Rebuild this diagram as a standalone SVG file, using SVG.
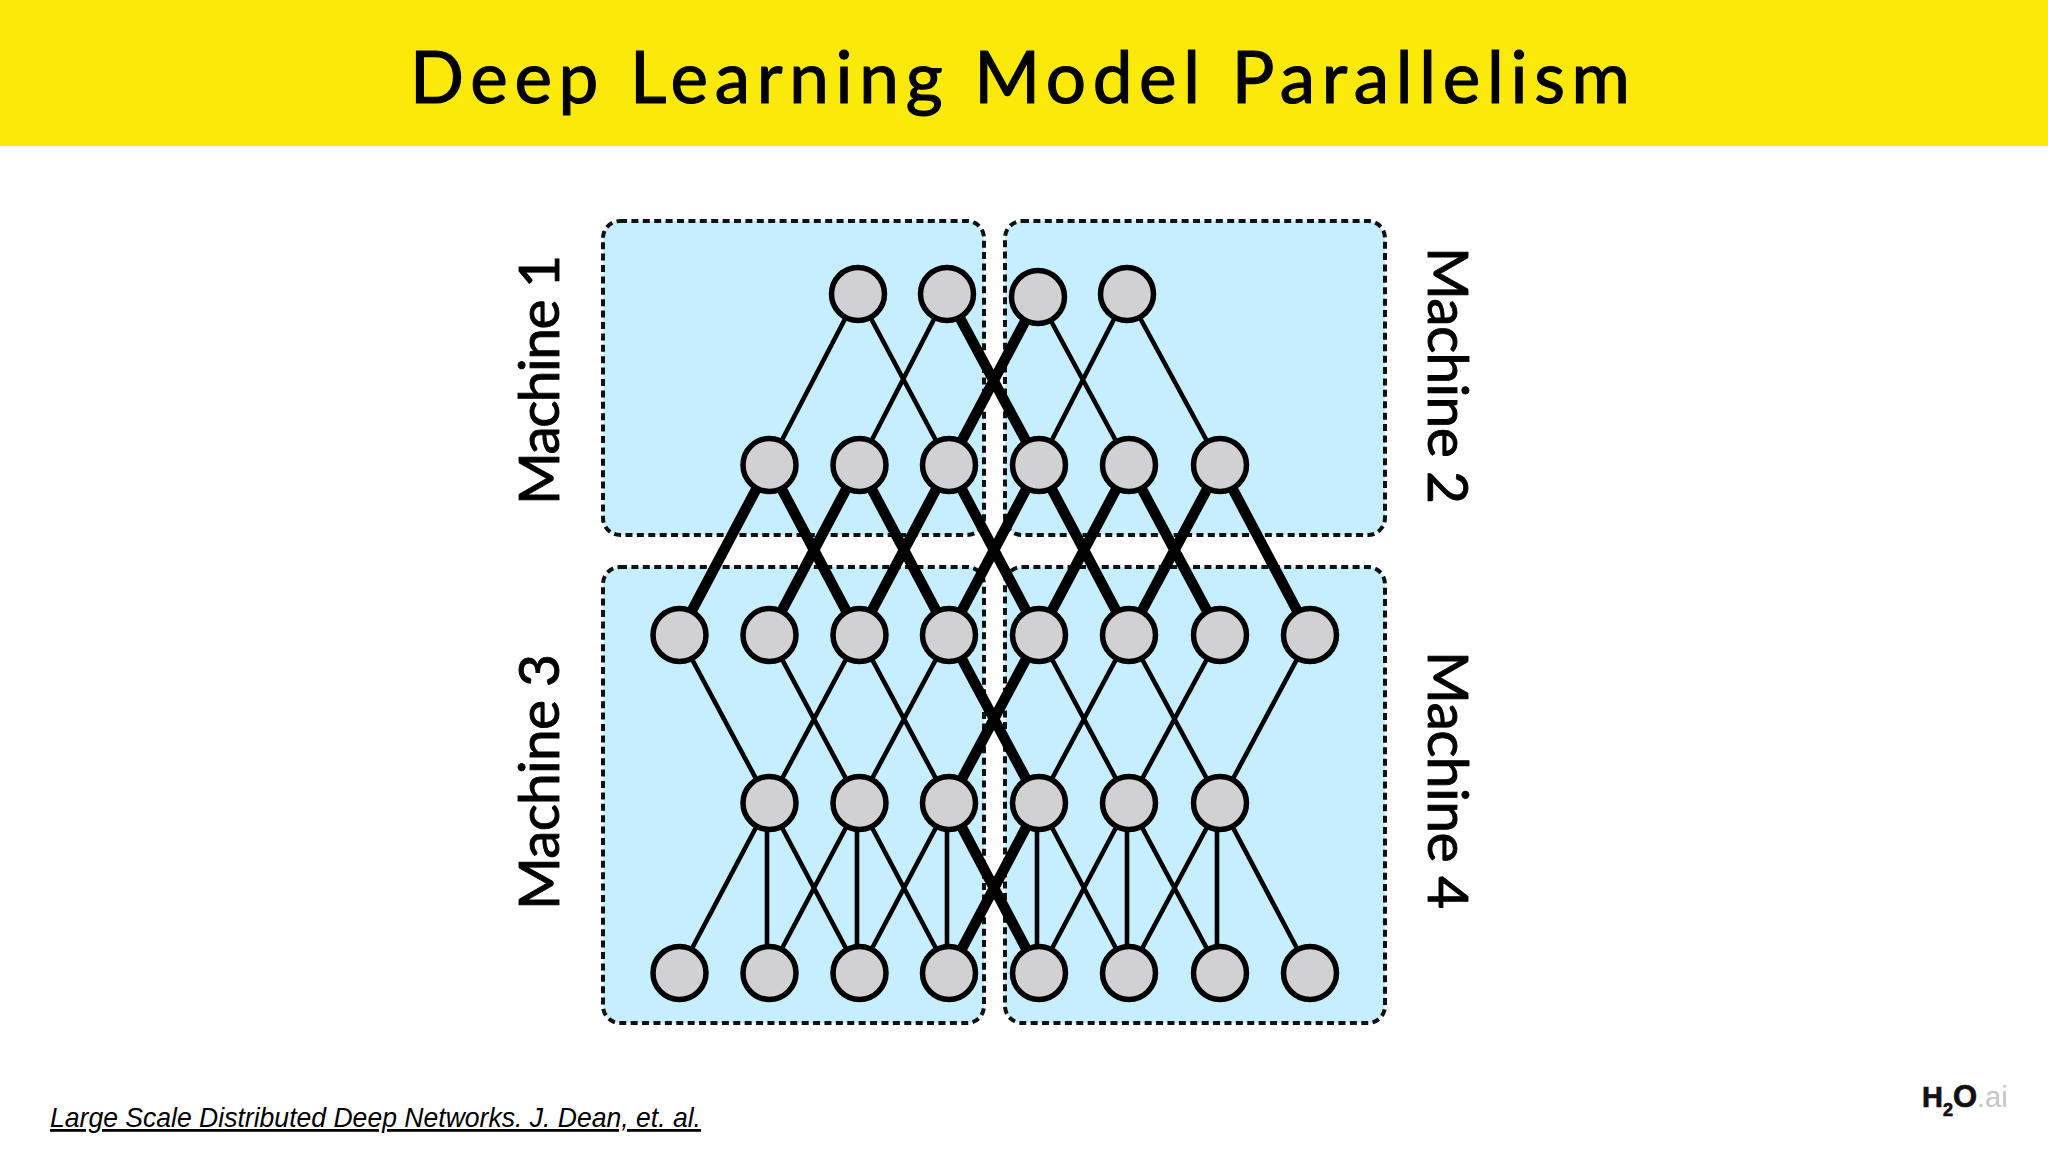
<svg xmlns="http://www.w3.org/2000/svg" width="2048" height="1152" viewBox="0 0 2048 1152">
<style>
.box{fill:#c6eefe;stroke:#111;stroke-width:4;stroke-dasharray:7 4.4}
.n{fill:#d1d1d3;stroke:#000;stroke-width:5.5}
.t{stroke:#000;stroke-width:4.6;fill:none}
.k{stroke:#000;stroke-width:10.5;fill:none}
.m{font-family:"Lato","Open Sans",sans-serif;font-size:57px;fill:#000;stroke:#000;stroke-width:.9}
</style>
<rect width="2048" height="1152" fill="#fff"/>
<g id="banner">
<rect width="2048" height="146" fill="#fbe909"/>
<text x="410" y="103" textLength="1220" font-family="Lato,'Liberation Sans',sans-serif" font-size="71" fill="#000" stroke="#000" stroke-width="1.2">Deep Learning Model Parallelism</text>
</g>
<g id="machine1"><rect class="box" x="603" y="221" width="381" height="314" rx="17"/><text class="m" transform="translate(559 505) rotate(-90)" textLength="250">Machine 1</text></g>
<g id="machine2"><rect class="box" x="1005" y="221" width="380" height="314" rx="17"/><text class="m" transform="translate(1428 247) rotate(90)" textLength="257">Machine 2</text></g>
<g id="machine3"><rect class="box" x="603" y="567" width="381" height="456" rx="17"/><text class="m" transform="translate(559 910) rotate(-90)" textLength="256">Machine 3</text></g>
<g id="machine4"><rect class="box" x="1005" y="567" width="380" height="456" rx="17"/><text class="m" transform="translate(1428 651) rotate(90)" textLength="258">Machine 4</text></g>
<g id="connectors">
<path class="t" d="M858 294L769 465M858 294L949 465M947 294L859 465M1038 297L1129 465M1127 294L1039 465M1127 294L1220 465"/>
<path class="k" d="M947 294L1039 465M1038 297L949 465"/>
<path class="k" d="M769 465L679 635M769 465L859 635M859 465L769 635M859 465L949 635M949 465L859 635M949 465L1039 635M1039 465L949 635M1039 465L1129 635M1129 465L1039 635M1129 465L1220 635M1220 465L1129 635M1220 465L1310 635"/>
<path class="t" d="M679 635L769 803M769 635L859 803M859 635L769 803M859 635L949 803M949 635L859 803M1039 635L1129 803M1129 635L1039 803M1129 635L1220 803M1220 635L1129 803M1310 635L1220 803"/>
<path class="k" d="M949 635L1039 803M1039 635L949 803"/>
<path class="t" d="M769 803L679 973M767 803L767 973M769 803L859 973M859 803L769 973M857 803L857 973M859 803L949 973M949 803L859 973M947 803L947 973M1037 803L1037 973M1039 803L1129 973M1129 803L1039 973M1127 803L1127 973M1129 803L1220 973M1220 803L1129 973M1217 803L1217 973M1220 803L1310 973"/>
<path class="k" d="M949 803L1039 973M1039 803L949 973"/>
</g>
<g id="nodes">
<g id="n1-1"><circle class="n" cx="858" cy="294" r="26.5"/></g>
<g id="n1-2"><circle class="n" cx="947" cy="294" r="26.5"/></g>
<g id="n1-3"><circle class="n" cx="1038" cy="297" r="26.5"/></g>
<g id="n1-4"><circle class="n" cx="1127" cy="294" r="26.5"/></g>
<g id="n2-1"><circle class="n" cx="769.500" cy="465" r="26.5"/></g>
<g id="n2-2"><circle class="n" cx="859.500" cy="465" r="26.5"/></g>
<g id="n2-3"><circle class="n" cx="949" cy="465" r="26.5"/></g>
<g id="n2-4"><circle class="n" cx="1039" cy="465" r="26.5"/></g>
<g id="n2-5"><circle class="n" cx="1129" cy="465" r="26.5"/></g>
<g id="n2-6"><circle class="n" cx="1220" cy="465" r="26.5"/></g>
<g id="n3-1"><circle class="n" cx="679.500" cy="635" r="26.5"/></g>
<g id="n3-2"><circle class="n" cx="769.500" cy="635" r="26.5"/></g>
<g id="n3-3"><circle class="n" cx="859.500" cy="635" r="26.5"/></g>
<g id="n3-4"><circle class="n" cx="949" cy="635" r="26.5"/></g>
<g id="n3-5"><circle class="n" cx="1039" cy="635" r="26.5"/></g>
<g id="n3-6"><circle class="n" cx="1129" cy="635" r="26.5"/></g>
<g id="n3-7"><circle class="n" cx="1220" cy="635" r="26.5"/></g>
<g id="n3-8"><circle class="n" cx="1310" cy="635" r="26.5"/></g>
<g id="n4-1"><circle class="n" cx="769.500" cy="803" r="26.5"/></g>
<g id="n4-2"><circle class="n" cx="859.500" cy="803" r="26.5"/></g>
<g id="n4-3"><circle class="n" cx="949" cy="803" r="26.5"/></g>
<g id="n4-4"><circle class="n" cx="1039" cy="803" r="26.5"/></g>
<g id="n4-5"><circle class="n" cx="1129" cy="803" r="26.5"/></g>
<g id="n4-6"><circle class="n" cx="1220" cy="803" r="26.5"/></g>
<g id="n5-1"><circle class="n" cx="679.500" cy="973" r="26.5"/></g>
<g id="n5-2"><circle class="n" cx="769.500" cy="973" r="26.5"/></g>
<g id="n5-3"><circle class="n" cx="859.500" cy="973" r="26.5"/></g>
<g id="n5-4"><circle class="n" cx="949" cy="973" r="26.5"/></g>
<g id="n5-5"><circle class="n" cx="1039" cy="973" r="26.5"/></g>
<g id="n5-6"><circle class="n" cx="1129" cy="973" r="26.5"/></g>
<g id="n5-7"><circle class="n" cx="1220" cy="973" r="26.5"/></g>
<g id="n5-8"><circle class="n" cx="1310" cy="973" r="26.5"/></g>
</g>
<text id="citation" x="50" y="1127" textLength="651" lengthAdjust="spacingAndGlyphs" font-family="'Liberation Sans',sans-serif" font-style="italic" font-size="28" fill="#000" text-decoration="underline">Large Scale Distributed Deep Networks. J. Dean, et. al.</text>
<text id="logo" y="1107" font-family="'Liberation Sans',sans-serif" font-size="29" font-weight="bold" fill="#111" stroke="#111" stroke-width=".7"><tspan x="1922">H</tspan><tspan x="1943" dy="9" font-size="18">2</tspan><tspan x="1953" dy="-9" font-size="31">O</tspan><tspan x="1977" font-weight="normal" fill="#c4c4c6" stroke="none">.ai</tspan></text>
</svg>
